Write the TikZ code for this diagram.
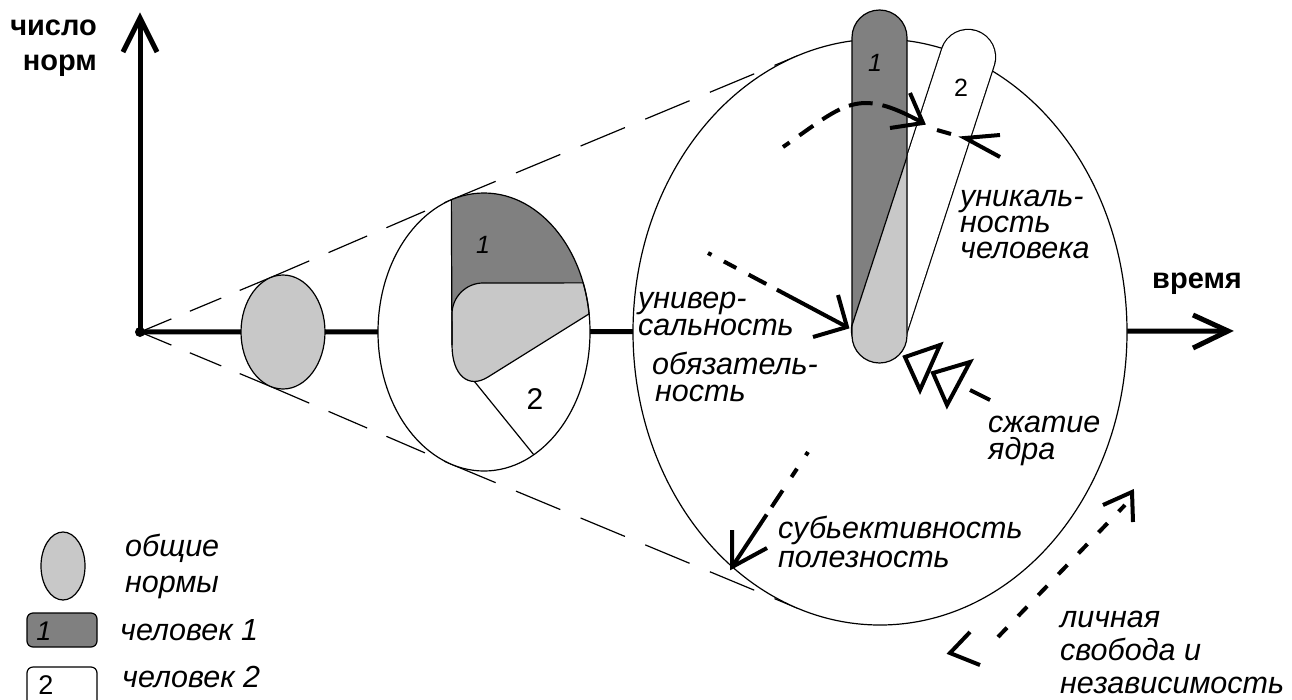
\documentclass[tikz,border=0pt]{standalone}
\usepackage{fontspec}
\setmainfont{Liberation Sans}
\usetikzlibrary{calc}
\definecolor{darkfill}{RGB}{128,128,128}
\definecolor{lightfill}{RGB}{200,200,200}
\tikzset{
  outl/.style={line width=1.2pt},
  axisline/.style={line width=5pt, line join=miter},
  arw/.style={line width=4pt, line join=miter},
  itl/.style={font=\fontsize{30.5}{30.5}\selectfont\itshape, inner sep=0pt, anchor=base west},
  bld/.style={font=\fontsize{29}{29}\selectfont\bfseries, inner sep=0pt},
  dig/.style={font=\fontsize{25}{25}\selectfont, inner sep=0pt},
}
\begin{document}
\begin{tikzpicture}[x=1pt,y=-1pt]
\useasboundingbox (0,0) rectangle (1292,699);
% coordinates
\coordinate (O) at (140,332);
\coordinate (ytip) at (140,18);
\coordinate (xtip) at (1228,331);
\coordinate (s1) at (270.66,277.5);
\coordinate (s2) at (270.66,386.5);
\coordinate (m1) at (451.34,199.76);
\coordinate (m2) at (451.34,464.24);
\coordinate (b1) at (797.56,55.8);
\coordinate (b2) at (797.56,608.2);
% axes
\draw[axisline] (O) -- (ytip);
\draw[axisline] (ytip) ++(-17,34) -- (ytip) -- ++(17,34);
\draw[axisline] (O) -- (xtip);
\draw[axisline] (xtip) ++(-35,-16) -- (xtip) -- ++(-35,17);
\fill (O) circle[radius=5];
% cone
\draw[outl, dash pattern=on 34pt off 20pt] (O) -- (s1);
\draw[outl, dash pattern=on 34pt off 20pt] (O) -- (s2);
\draw[outl, dash pattern=on 42pt off 21pt] (s1) -- (m1);
\draw[outl, dash pattern=on 42pt off 21pt] (s2) -- (m2);
\draw[outl, dash pattern=on 48pt off 22pt] (m1) -- (b1);
\draw[outl, dash pattern=on 48pt off 22pt] (m2) -- (b2);
% big ellipse
\draw[outl, fill=white] (880,332) ellipse [x radius=247, y radius=293];
% middle ellipse
\fill[white] (484,332) ellipse [x radius=106, y radius=139];
\fill[darkfill] (m1) -- plot[domain=-107.9:-20.7, samples=40] ({484+106*cos(\x)},{332+139*sin(\x)}) -- (452,330) -- cycle;
\draw[outl] (533.76,454.73) -- (470,376);
\filldraw[fill=lightfill, draw=black, outl] (483,283) -- plot[domain=-20.7:-7.5, samples=10] ({484+106*cos(\x)},{332+139*sin(\x)}) -- (488,377) .. controls (468.2,389.4) and (452,375) .. (452,345) -- (452,314) .. controls (452,297) and (466,283) .. (483,283) -- cycle;
\draw[outl] (m1) -- (452,345);
\draw[outl] (484,332) ellipse [x radius=106, y radius=139];
\node[dig, font=\fontsize{25}{25}\selectfont\itshape] (mone) at (483,245) {1};
\node[dig, font=\fontsize{30}{30}\selectfont] (mtwo) at (535,399) {2};
% small ellipse
\filldraw[fill=lightfill, draw=black, outl] (283,332) ellipse [x radius=42, y radius=57];
% bar 2
\draw[line width=56.4pt, line cap=round] (968,57) -- (879,330);
\draw[line width=54pt, line cap=round, white] (968,57) -- (879,330);
% bar 1
\fill[darkfill, rounded corners=27.5pt] (852,10) rectangle (907,363);
\begin{scope}
  \clip[rounded corners=27.5pt] (852,10) rectangle (907,363);
  \fill[lightfill] (958.1,0) -- (827.7,400) -- (1000,400) -- (1000,0) -- cycle;
  \draw[outl] (958.1,0) -- (827.7,400);
\end{scope}
\draw[outl, rounded corners=27.5pt] (852,10) rectangle (907,363);
\node[dig, font=\fontsize{25}{25}\selectfont\itshape] (bone) at (875,63) {1};
\node[dig] (btwo) at (961,88) {2};
% arrow: curved (top)
\coordinate (c1s) at (783,147);
\coordinate (c1t) at (923,123);
\draw[arw, dash pattern=on 8pt off 12pt on 17pt off 11pt on 20pt off 10pt on 24pt off 10pt on 200pt] (c1s) .. controls (845.2,103.8) and (856.7,86.2) .. (c1t);
\draw[arw] (c1t) ++(-13,-30) -- (c1t) -- ++(-33,5);
\coordinate (c2s) at (937,130);
\coordinate (c2e) at (951,134);
\coordinate (c2t) at (965,138);
\draw[arw] (c2s) -- (c2e);
\draw[arw] (c2t) ++(35,-3) -- (c2t) -- ++(35,19);
% arrow: universality
\coordinate (u1) at (708,253);
\coordinate (ut) at (847,327);
\draw[arw, dash pattern=on 4pt off 14pt on 14pt off 14pt on 20pt off 12pt on 200pt] (u1) -- (ut);
\draw[arw] (ut) ++(-9,-32) -- (ut) -- ++(-34,10);
% arrow: subjectivity
\coordinate (p1) at (808,452);
\coordinate (pt) at (732,567);
\draw[arw, dash pattern=on 4pt off 16pt on 10pt off 16pt on 20pt off 9pt on 200pt] (p1) -- (pt);
\draw[arw] (pt) ++(0,-37) -- (pt) -- ++(35,-19);
% arrow: freedom (double)
\coordinate (f1) at (998,637);
\coordinate (f2) at (1125,505);
\coordinate (fl) at (950,653);
\coordinate (fu) at (1132,492);
\draw[arw, dash pattern=on 13pt off 16pt] (f1) -- (f2);
\draw[arw] (fl) ++(30,12) -- (fl) -- ++(20,-21);
\draw[arw] (fu) ++(-29,13) -- (fu) -- ++(1,30);
% arrow: core compression
\coordinate (k1) at (970,390);
\coordinate (k2) at (990,400);
\draw[arw] (k1) -- (k2);
\draw[arw] (905,357) -- (940,345) -- (920,390) -- cycle;
\draw[arw] (933,373) -- (970,362) -- (947,405) -- cycle;
% axis labels
\node[bld, anchor=base east] (yl1) at (97,35) {число};
\node[bld, anchor=base east] (yl2) at (97,70) {норм};
\node[bld, anchor=base west] (xl) at (1152,288) {время};
% italic labels
\node[itl] (t1a) at (638,308) {универ-};
\node[itl] (t1b) at (638,335) {сальность};
\node[itl] (t2a) at (652,374) {обязатель-};
\node[itl] (t2b) at (655,401) {ность};
\node[itl] (t3a) at (960,206) {уникаль-};
\node[itl] (t3b) at (960,232) {ность};
\node[itl] (t3c) at (960,258) {человека};
\node[itl] (t4a) at (988,432) {сжатие};
\node[itl] (t4b) at (988,459) {ядра};
\node[itl] (t5a) at (778,538) {субьективность};
\node[itl] (t5b) at (778,567) {полезность};
\node[itl] (t6a) at (1060,627) {личная};
\node[itl] (t6b) at (1060,660) {свобода и};
\node[itl] (t6c) at (1060,693) {независимость};
% legend
\filldraw[fill=lightfill, draw=black, outl] (63,566) ellipse [x radius=22, y radius=34];
\filldraw[fill=darkfill, draw=black, outl, rounded corners=6pt] (27,613) rectangle (97,647);
\draw[outl, rounded corners=6pt] (27,667) rectangle (97,715);
\node[dig, font=\fontsize{27}{27}\selectfont\itshape] (lone) at (44,631) {1};
\node[dig, font=\fontsize{27}{27}\selectfont] (ltwo) at (46,685) {2};
\node[itl] (lg1) at (125,556) {общие};
\node[itl] (lg2) at (125,592) {нормы};
\node[itl] (lg3) at (120,640) {человек 1};
\node[itl] (lg4) at (122,687) {человек 2};
\end{tikzpicture}
\end{document}
